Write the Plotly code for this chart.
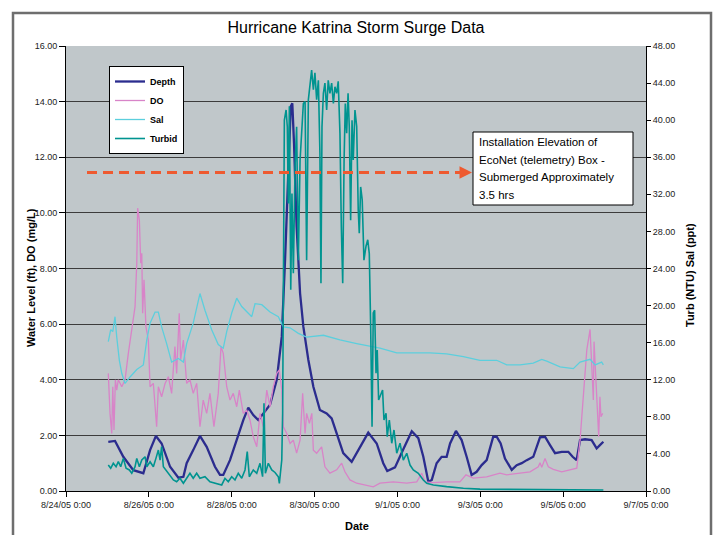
import pandas as pd
import plotly.graph_objects as go

START = pd.Timestamp("2005-08-24 00:00")

# ---- Data (hours after 8/24/05 0:00) ----
depth_hours = [24.5, 28.4, 33.2, 39.0, 44.8, 48.7, 52.1, 55.4, 60.3, 65.1,
               68.0, 69.9, 73.7, 77.6, 81.5, 86.3, 89.2, 91.1, 95.0, 98.9,
               102.7, 105.6, 108.5, 111.4, 114.3, 118.2, 122.1, 125.0, 126.9, 128.8,
               130.2, 131.1, 132.1, 133.6, 135.6, 137.5, 140.4, 143.3, 147.1, 151.0,
               153.9, 156.8, 160.6, 165.5, 169.3, 175.1, 180.0, 183.8, 186.1, 190.6,
               195.4, 200.3, 204.1, 207.0, 209.9, 211.9, 214.7, 217.6, 220.5, 222.5,
               225.9, 229.2, 232.1, 235.0, 237.9, 240.8, 243.7, 247.5, 249.5, 251.8,
               254.3, 258.2, 261.1, 264.0, 266.9, 270.7, 274.6, 277.5, 280.4, 283.3,
               287.2, 291.0, 293.5, 295.8, 297.8, 300.7, 304.5, 307.4, 309.3, 311.3]
depth_ft = [1.77, 1.80, 1.23, 0.75, 0.64, 1.47, 1.98, 1.71, 0.87, 0.48,
            0.51, 1.0, 1.47, 1.98, 1.59, 0.87, 0.58, 0.58, 1.11, 1.83,
            2.55, 3.0, 2.73, 2.55, 2.79, 3.1, 4.0, 5.55, 8.3, 11.9,
            13.82, 13.94, 12.5, 9.5, 7.11, 5.91, 4.71, 3.75, 2.91, 2.79,
            2.61, 2.07, 1.36, 1.05, 1.47, 2.10, 1.71, 1.0, 0.72, 0.85,
            1.5, 2.15, 1.9, 1.23, 0.33, 0.40, 1.0, 1.23, 1.23, 1.71,
            2.16, 1.83, 1.23, 0.58, 0.69, 0.93, 1.11, 1.95, 1.95, 1.71,
            1.17, 0.76, 0.93, 1.0, 1.11, 1.23, 1.93, 1.95, 1.65, 1.36,
            1.41, 1.41, 1.23, 1.11, 1.83, 1.86, 1.83, 1.53, 1.65, 1.77]

do_hours = [24.5, 25.5, 26.5, 27.1, 27.8, 28.6, 29.4, 30.3, 32.3, 34.2,
            36.1, 38.1, 40.0, 41.0, 41.5, 42.5, 43.3, 43.9, 44.4, 45.2,
            46.3, 47.7, 48.7, 50.6, 52.5, 53.5, 55.4, 57.4, 59.3, 61.2,
            63.1, 64.1, 65.6, 66.4, 68.0, 69.9, 71.8, 73.7, 75.7, 77.6,
            79.5, 81.5, 83.4, 85.7, 88.2, 89.8, 91.1, 93.1, 95.0, 96.9,
            98.9, 100.4, 102.7, 104.7, 106.6, 108.5, 110.5, 112.4, 114.3, 116.3,
            118.2, 120.1, 122.1, 123.6, 125.0, 125.9, 127.9, 129.8, 131.7, 133.6,
            135.6, 137.1, 138.5, 139.4, 141.0, 142.4, 143.3, 145.2, 148.1, 150.0,
            152.9, 156.8, 159.7, 161.6, 164.5, 168.4, 172.2, 178.0, 181.9, 189.6,
            197.4, 203.2, 206.1, 208.0, 212.8, 220.5, 228.2, 231.7, 235.9, 243.7,
            251.4, 255.3, 263.0, 268.8, 273.6, 274.6, 275.6, 277.5, 279.4, 282.3,
            287.2, 293.0, 295.9, 297.8, 299.7, 301.7, 303.6, 304.5, 305.5, 305.9,
            307.0, 307.8, 308.6, 309.3, 309.9, 310.9]
do_mgl = [4.23, 2.79, 2.07, 3.75, 2.19, 4.0, 3.63, 4.0, 3.75, 4.0,
          4.95, 5.79, 6.63, 8.19, 10.17, 9.74, 8.19, 8.55, 6.39, 7.59,
          5.91, 5.43, 3.75, 3.87, 2.31, 3.75, 3.39, 3.87, 4.11, 3.51,
          5.19, 4.23, 6.39, 4.71, 5.43, 3.87, 4.0, 3.51, 3.87, 2.31,
          3.27, 2.79, 3.51, 2.31, 3.51, 5.19, 4.95, 3.75, 3.27, 3.51,
          3.03, 3.63, 2.79, 2.91, 2.55, 1.95, 1.59, 2.79, 2.31, 3.63,
          3.03, 3.75, 4.23, 4.35, 3.63, 2.31, 2.07, 1.71, 1.83, 1.36,
          1.83, 3.51, 2.07, 2.79, 2.43, 2.79, 1.47, 1.36, 1.59, 0.87,
          0.64, 0.76, 1.0, 0.69, 0.40, 0.28, 0.22, 0.15, 0.28, 0.33,
          0.28, 0.33, 0.64, 0.33, 0.30, 0.33, 0.33, 0.58, 0.46, 0.51,
          0.64, 0.58, 0.64, 0.69, 0.87, 1.02, 0.85, 1.17, 0.87, 0.78,
          0.69, 0.76, 0.82, 1.83, 3.27, 5.07, 5.81, 4.47, 3.27, 5.37,
          3.87, 2.55, 1.95, 3.39, 2.67, 2.79]

sal_hours = [24.5, 25.9, 27.1, 28.4, 29.4, 30.9, 32.3, 34.2, 37.1, 41.0,
             44.8, 46.8, 48.7, 51.6, 53.5, 55.4, 58.3, 61.2, 65.1, 68.0,
             69.9, 73.7, 77.6, 80.5, 84.4, 88.2, 91.1, 93.1, 96.0, 98.9,
             101.8, 104.7, 107.6, 109.5, 113.4, 118.2, 123.0, 125.9, 129.8, 134.6,
             139.4, 149.1, 158.7, 168.4, 176.1, 181.9, 191.6, 201.2, 210.9, 220.5,
             230.2, 239.8, 249.5, 255.3, 263.0, 270.7, 275.6, 278.5, 286.2, 293.9,
             297.8, 303.6, 306.5, 310.3, 311.3]
sal_ppt = [16.1, 17.4, 17.2, 18.8, 16.6, 14.1, 12.7, 11.6, 12.3, 13.1,
           13.6, 16.3, 18.1, 19.3, 19.3, 17.7, 15.9, 13.9, 14.3, 13.9,
           15.9, 18.1, 21.3, 19.5, 17.4, 15.8, 15.4, 17.2, 19.2, 20.8,
           19.9, 19.3, 18.8, 20.2, 20.1, 19.3, 18.8, 17.7, 17.6, 17.0,
           16.6, 16.8, 16.3, 15.9, 15.6, 15.4, 14.9, 14.9, 14.9, 14.8,
           14.5, 14.1, 14.1, 13.6, 13.6, 13.8, 14.2, 14.0, 13.4, 13.2,
           13.9, 14.2, 13.6, 13.9, 13.6]

turb_hours = [24.5, 25.9, 27.4, 29.0, 30.3, 31.7, 33.2, 34.8, 36.7, 38.1,
              40.0, 41.0, 42.5, 43.9, 45.8, 46.8, 48.7, 50.6, 52.1, 53.5,
              54.5, 55.4, 56.4, 57.9, 59.8, 62.2, 64.1, 66.0, 68.0, 69.9,
              71.8, 73.7, 75.7, 77.6, 80.5, 83.4, 87.3, 90.2, 92.1, 94.0,
              96.0, 97.9, 99.8, 101.8, 103.7, 105.0, 106.2, 108.5, 110.5, 112.4,
              113.9, 114.7, 115.5, 117.2, 119.2, 121.1, 123.0, 123.6, 124.4, 125.0,
              125.5, 125.9, 126.5, 127.5, 128.2, 128.8, 129.4, 130.2, 130.9, 131.7,
              132.7, 133.6, 134.6, 135.6, 136.5, 137.5, 138.5, 139.4, 140.4, 141.3,
              142.3, 143.3, 144.2, 145.2, 146.2, 147.1, 147.7, 148.3, 149.1, 150.0,
              151.0, 151.9, 152.9, 153.9, 154.9, 155.8, 156.8, 157.7, 158.7, 159.5,
              160.3, 161.1, 161.8, 162.6, 163.4, 164.1, 164.9, 165.7, 166.4, 167.4,
              168.4, 169.3, 169.9, 170.7, 171.6, 172.6, 173.8, 174.8, 175.7, 176.5,
              177.3, 178.0, 178.8, 179.6, 180.3, 181.1, 182.3, 183.4, 184.2, 185.4,
              186.1, 187.3, 188.7, 190.0, 191.6, 193.5, 195.4, 197.4, 199.3, 201.2,
              204.1, 207.0, 209.0, 212.8, 220.5, 230.2, 239.8, 263.0, 286.2, 311.3]
turb_ntu = [2.80, 2.45, 2.99, 2.62, 3.16, 2.62, 3.52, 2.45, 2.27, 1.91,
            2.62, 3.52, 2.62, 3.34, 3.70, 2.62, 3.16, 2.62, 3.52, 4.42,
            3.34, 4.78, 2.62, 2.27, 1.73, 1.19, 1.0, 1.37, 0.83, 1.37,
            1.91, 1.37, 1.91, 1.37, 1.54, 1.0, 0.83, 0.65, 1.37, 1.0,
            1.54, 1.19, 1.91, 1.37, 2.27, 4.24, 1.54, 2.27, 1.91, 2.99,
            1.54, 9.46, 1.91, 2.99, 2.27, 2.0, 1.54, 0.83, 2.27, 3.34,
            8.38, 21.3, 40.0, 41.1, 39.3, 31.0, 41.5, 21.7, 32.1, 23.5,
            35.0, 39.3, 24.9, 35.7, 38.2, 41.8, 42.0, 24.9, 42.2, 43.6,
            45.4, 43.3, 45.1, 42.2, 44.3, 36.4, 22.4, 39.3, 42.9, 44.0,
            41.1, 44.3, 42.9, 44.0, 41.8, 43.6, 42.9, 44.2, 38.6, 28.5,
            22.4, 35.7, 41.8, 38.6, 42.9, 39.3, 29.2, 40.0, 35.7, 41.1,
            39.3, 30.3, 27.8, 32.8, 31.4, 24.9, 26.4, 27.1, 25.6, 17.7,
            6.94, 19.2, 19.5, 12.7, 15.2, 9.82, 10.5, 10.9, 7.66, 8.38,
            5.86, 7.66, 5.15, 6.58, 4.07, 5.15, 3.34, 4.07, 2.80, 2.27,
            1.91, 1.19, 0.83, 0.65, 0.47, 0.29, 0.2, 0.15, 0.12, 0.1]

box_elevation_ft = 11.45
note_lines = ["Installation Elevation of", "EcoNet (telemetry) Box -",
              "Submerged Approximately", "3.5 hrs"]


def to_dt(hours):
    return START + pd.to_timedelta(hours, unit="h")


NARROW = "Liberation Sans Narrow, Arial Narrow, Liberation Sans, sans-serif"
ARIAL = "Liberation Sans, Arial, sans-serif"
TICKFONT = dict(family=NARROW, size=9, color="#222")

fig = go.Figure()
fig.add_trace(go.Scatter(x=to_dt(depth_hours), y=depth_ft, name="Depth", mode="lines",
                         line=dict(color="#2B2C8E", width=2.3)))
fig.add_trace(go.Scatter(x=to_dt(do_hours), y=do_mgl, name="DO", mode="lines",
                         line=dict(color="#D884C8", width=1.3)))
fig.add_trace(go.Scatter(x=to_dt(sal_hours), y=sal_ppt, name="Sal", mode="lines",
                         line=dict(color="#5CCFDD", width=1.3), yaxis="y2"))
fig.add_trace(go.Scatter(x=to_dt(turb_hours), y=turb_ntu, name="Turbid", mode="lines",
                         line=dict(color="#009490", width=1.6), yaxis="y2"))

fig.update_layout(
    width=717, height=535,
    margin=dict(l=66, r=71, t=46, b=44),
    paper_bgcolor="white",
    plot_bgcolor="#C0C7CA",
    title=dict(text="Hurricane Katrina Storm Surge Data", x=0.5, xref="paper",
               y=1 - 27 / 535, yanchor="middle",
               font=dict(family=NARROW, size=16, color="black")),
    font=dict(family=NARROW, size=9, color="#222"),
    xaxis=dict(type="date", range=[START, START + pd.Timedelta(days=14)],
               tick0=START, dtick=2 * 86400000, tickformat="%-m/%-d/%y %-H:%M",
               showgrid=False, showline=True, linecolor="black", linewidth=1,
               ticks="outside", ticklen=5, tickcolor="black", tickfont=TICKFONT),
    yaxis=dict(range=[0, 16], dtick=2, tickformat=".2f", showgrid=True,
               gridcolor="#3C3C3C", gridwidth=1, zeroline=False,
               showline=True, linecolor="black", linewidth=1,
               ticks="outside", ticklen=6, tickcolor="black", tickfont=TICKFONT),
    yaxis2=dict(range=[0, 48], dtick=4, tickformat=".2f", overlaying="y", side="right",
                showgrid=False, zeroline=False, showline=True, linecolor="black",
                linewidth=1, ticks="outside", ticklen=4, tickcolor="black",
                tickfont=TICKFONT),
    legend=dict(x=(109 - 66) / 580, y=(491 - 66) / 445, xanchor="left", yanchor="top",
                bgcolor="white", bordercolor="black", borderwidth=1,
                font=dict(family=NARROW, size=9, color="black", weight="bold"),
                tracegroupgap=0),
    showlegend=True,
)

# chart frame
fig.add_shape(type="rect", xref="paper", yref="paper",
              x0=(13 - 66) / 580, x1=(711 - 66) / 580,
              y0=(491 - 548) / 445, y1=(491 - 13) / 445,
              line=dict(color="#6E6E6E", width=2.5), fillcolor="rgba(0,0,0,0)",
              layer="below")

# dashed installation elevation line with arrow
fig.add_shape(type="line", xref="paper", yref="y",
              x0=(87 - 66) / 580, x1=(462 - 66) / 580,
              y0=box_elevation_ft, y1=box_elevation_ft,
              line=dict(color="#EE5A30", width=3, dash="10px,6px"))
fig.add_annotation(xref="paper", yref="y", x=(472 - 66) / 580, y=box_elevation_ft,
                   ax=-10, ay=0, text="", showarrow=True, arrowhead=2,
                   arrowsize=1, arrowwidth=2.5, arrowcolor="#EE5A30")

# note box
fig.add_shape(type="rect", xref="paper", yref="paper",
              x0=(473 - 66) / 580, x1=(633 - 66) / 580,
              y0=(491 - 205) / 445, y1=(491 - 132) / 445,
              line=dict(color="black", width=1), fillcolor="white")
for i, line_txt in enumerate(note_lines):
    py = 141.7 + i * 17.8
    fig.add_annotation(xref="paper", yref="paper", x=(476.5 - 66) / 580,
                       y=(491 - py) / 445, xanchor="left", yanchor="middle",
                       text=line_txt, showarrow=False,
                       font=dict(family=ARIAL, size=11.5, color="black"))

# axis titles
fig.add_annotation(xref="paper", yref="paper", x=(31 - 66) / 580, y=(491 - 278) / 445,
                   text="Water Level (ft), DO (mg/L)", textangle=-90, showarrow=False,
                   xanchor="center", yanchor="middle",
                   font=dict(family=ARIAL, size=11, color="black", weight="bold"))
fig.add_annotation(xref="paper", yref="paper", x=(690 - 66) / 580, y=(491 - 275) / 445,
                   text="Turb (NTU) Sal (ppt)", textangle=-90, showarrow=False,
                   xanchor="center", yanchor="middle",
                   font=dict(family=ARIAL, size=11, color="black", weight="bold"))
fig.add_annotation(xref="paper", yref="paper", x=(357 - 66) / 580, y=(491 - 526) / 445,
                   text="Date", showarrow=False, xanchor="center", yanchor="middle",
                   font=dict(family=ARIAL, size=11, color="black", weight="bold"))

fig.write_html("out.html",
               config={"displayModeBar": False},
               post_script="document.body.style.margin='0px';"
                           "document.body.style.overflow='hidden';")
